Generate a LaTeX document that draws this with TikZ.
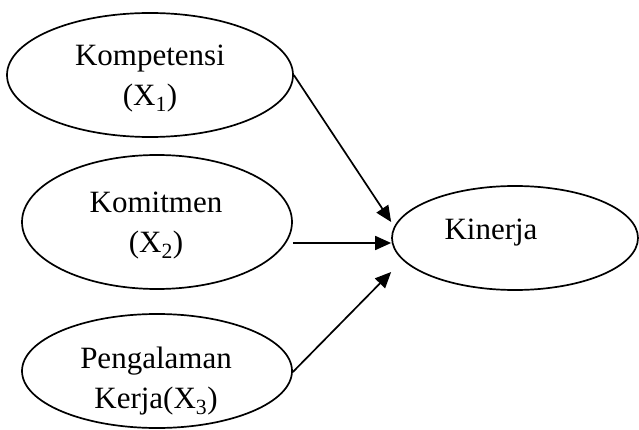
\documentclass[tikz,border=0pt]{standalone}
\usepackage{fontspec}
\setmainfont{Liberation Serif}
\usetikzlibrary{shapes.geometric,arrows.meta,calc}
\begin{document}
\begin{tikzpicture}[x=1pt,y=-1pt,
  oval/.style={draw=black,line width=1.7pt,ellipse,inner sep=0pt},
  lbl/.style={inner sep=0pt,align=center,font=\fontsize{31}{40}\selectfont},
  link/.style={line width=1.7pt,-{Triangle[length=16pt,width=14pt]}}]
\useasboundingbox (0,0) rectangle (639,430);
\node[oval,minimum width=286pt,minimum height=124pt] (e1) at (150,75) {};
\node[oval,minimum width=270pt,minimum height=134pt] (e2) at (157,222) {};
\node[oval,minimum width=270pt,minimum height=114pt] (e3) at (157,371) {};
\node[oval,minimum width=246pt,minimum height=104pt] (k) at (515,238) {};
\node[lbl] (t1) at (150,78.5) {Kompetensi\\(X\textsubscript{1})};
\node[lbl] (t2) at (156,225.5) {Komitmen\\(X\textsubscript{2})};
\node[lbl] (t3) at (156,381) {Pengalaman\\Kerja(X\textsubscript{3})};
\node[lbl,anchor=base] (tk) at (491,240) {Kinerja};
\coordinate (s2) at ($(e2.east)+(0,21)$);
\coordinate (s3) at ($(e3.east)+(0,1)$);
\draw[link] (e1.east) -- ($(k.west)+(0,-16)$);
\draw[link] (s2) -- ($(k.west)+(0,5)$);
\draw[link] (s3) -- ($(k.west)+(0,34)$);
\end{tikzpicture}
\end{document}
